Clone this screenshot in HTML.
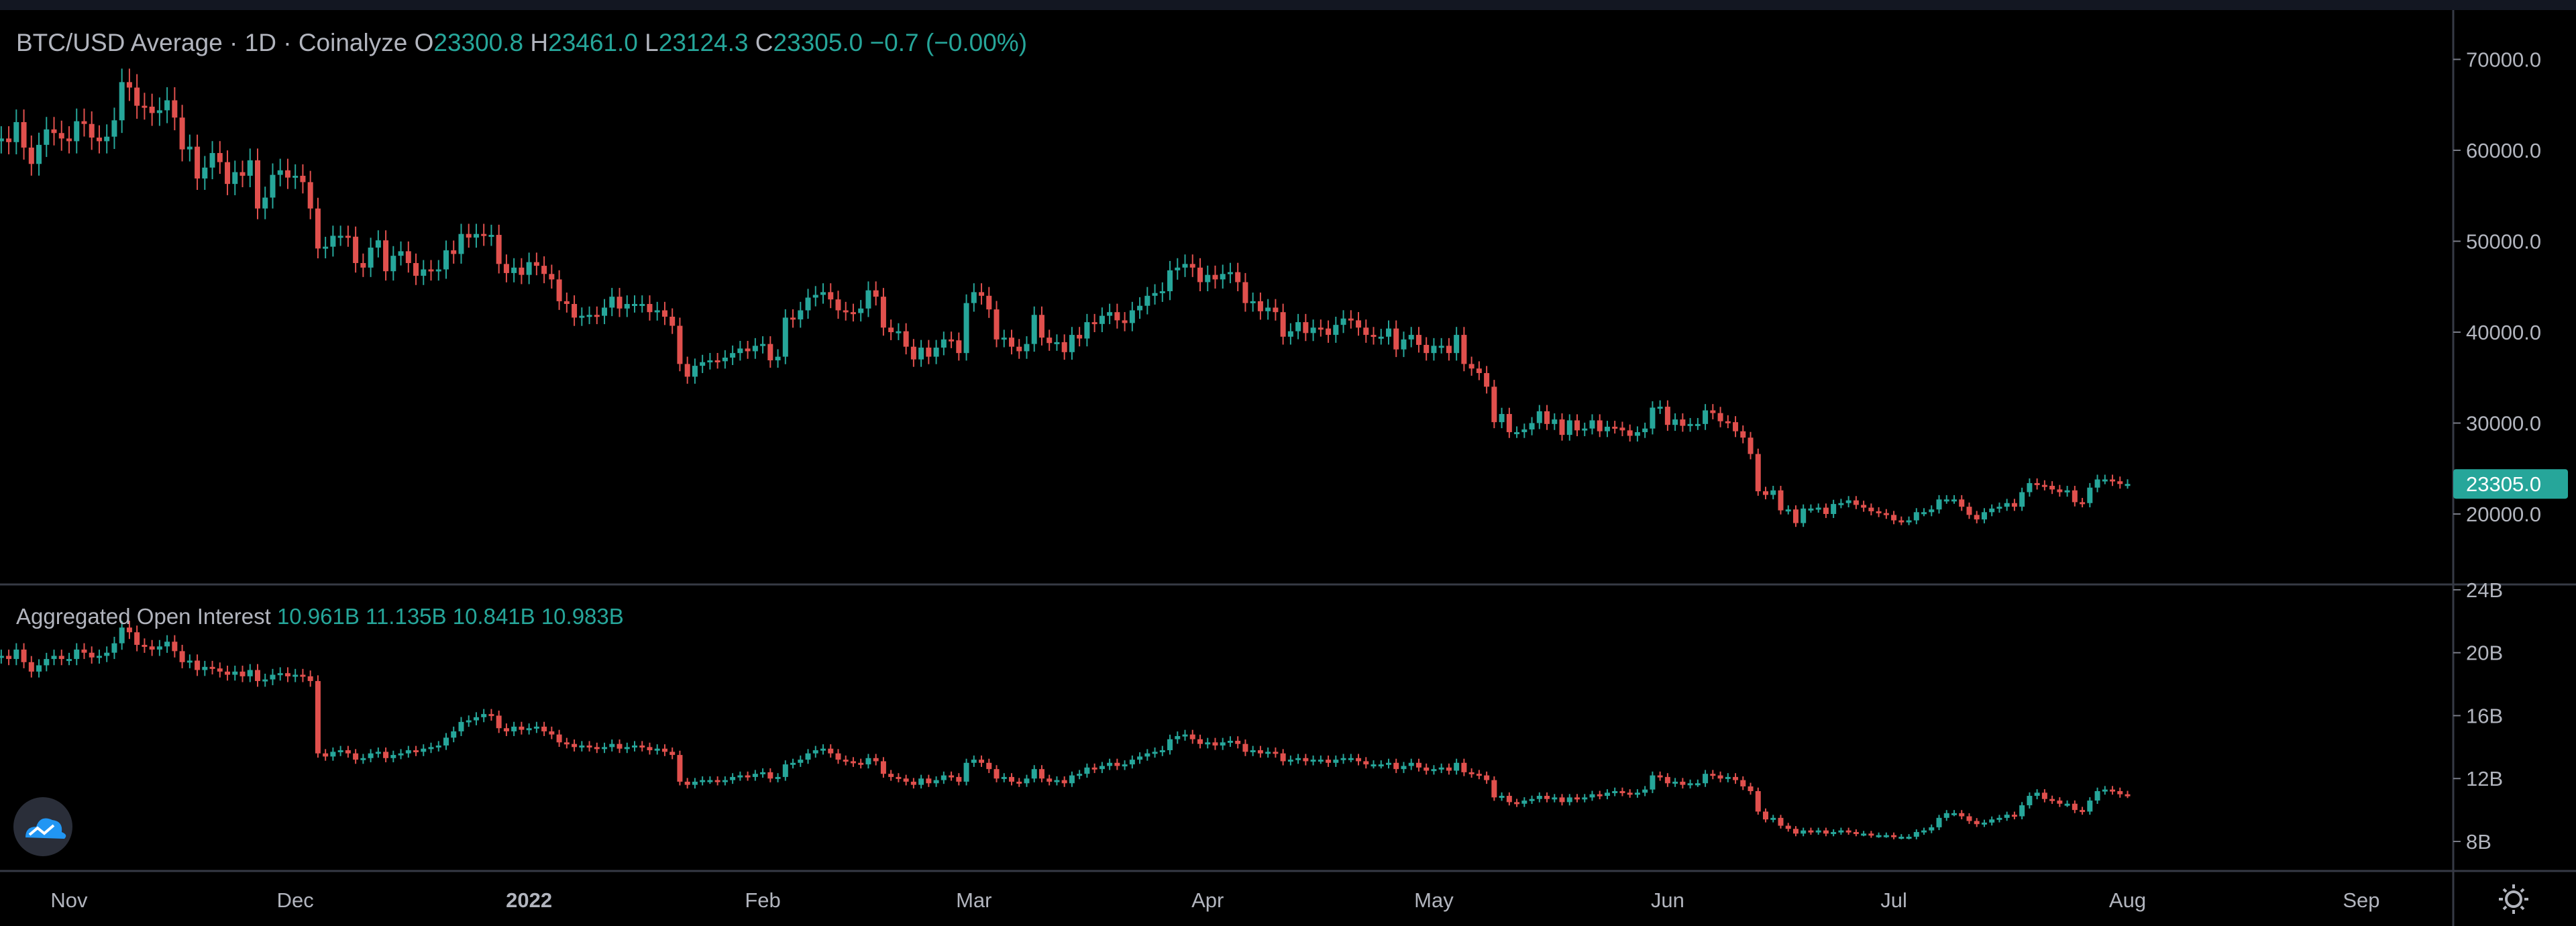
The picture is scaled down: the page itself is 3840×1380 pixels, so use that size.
<!DOCTYPE html>
<html><head><meta charset="utf-8"><style>
html,body{margin:0;padding:0;background:#000;}
body{width:3840px;height:1380px;overflow:hidden;position:relative;font-family:"Liberation Sans",sans-serif;}
svg{position:absolute;left:0;top:0;}
</style></head><body>
<svg id="chart" width="3840" height="1380" xmlns="http://www.w3.org/2000/svg">
<rect x="0" y="0" width="3840" height="15" fill="#131722"/>
<g id="marks"></g>
<line x1="0" y1="871" x2="3840" y2="871" stroke="#363a45" stroke-width="3"/>
<line x1="0" y1="1298" x2="3840" y2="1298" stroke="#363a45" stroke-width="3"/>
<line x1="3657" y1="15" x2="3657" y2="1380" stroke="#363a45" stroke-width="3"/>
<g id="axes"></g>
<text x="24" y="76" font-size="37" fill="#b2b5be">BTC/USD Average · 1D · Coinalyze  <tspan fill="#b2b5be">O</tspan><tspan fill="#26a69a">23300.8</tspan>  <tspan fill="#b2b5be">H</tspan><tspan fill="#26a69a">23461.0</tspan>  <tspan fill="#b2b5be">L</tspan><tspan fill="#26a69a">23124.3</tspan>  <tspan fill="#b2b5be">C</tspan><tspan fill="#26a69a">23305.0  −0.7 (−0.00%)</tspan></text>
<text x="24" y="930" font-size="33" fill="#b2b5be">Aggregated Open Interest <tspan fill="#26a69a">  10.961B  11.135B  10.841B  10.983B</tspan></text>
<g><circle cx="64" cy="1232" r="44" fill="#2a2e39"/><path d="M38 1248 q0 -16 16 -16 q6 -18 24 -10 q16 2 14 18 q10 4 4 10 z" fill="#2196f3"/><path d="M44 1244 l12 -10 l10 8 l14 -12" stroke="#fff" stroke-width="4" fill="none"/></g>
<g><circle cx="3747" cy="1340" r="11" fill="none" stroke="#b2b5be" stroke-width="4"/><g stroke="#b2b5be" stroke-width="4"><line x1="3747" y1="1318" x2="3747" y2="1324"/><line x1="3747" y1="1356" x2="3747" y2="1362"/><line x1="3725" y1="1340" x2="3731" y2="1340"/><line x1="3763" y1="1340" x2="3769" y2="1340"/><line x1="3732" y1="1325" x2="3736" y2="1329"/><line x1="3758" y1="1351" x2="3762" y2="1355"/><line x1="3732" y1="1355" x2="3736" y2="1351"/><line x1="3758" y1="1329" x2="3762" y2="1325"/></g></g>
</svg>
<script>
const btcClose=[61300,60900,63100,60300,58500,60600,62300,61900,61300,
61000,63200,62900,61400,61000,61500,63300,67500,66900,64900,64800,64100,64400,65500,63600,60100,60400,56900,58100,59700,58700,56300,57600,57200,58900,53600,54800,57300,57800,57000,
57200,56500,53600,49200,49400,50600,50600,50500,47600,47100,49300,50100,46700,48400,48900,47600,46200,46900,46700,46900,49000,48600,50800,50400,50800,50600,50700,47500,46500,47100,46300,
47700,47300,46400,45800,43400,43100,41600,41800,41900,41800,42700,43900,42600,43100,43100,43100,42200,42400,41700,40700,36500,35100,36300,36700,36900,36800,37200,37700,38200,37900,38500,
38700,36900,37300,41600,41400,42400,43800,44100,44400,43600,42400,42200,42100,42600,44600,43900,40500,40000,40100,38400,37000,38300,37300,38300,39200,39100,37700,43200,
44400,44000,42500,39200,39400,38400,37900,38700,41900,39400,38800,38900,37800,39700,39300,41100,40900,41800,42200,41300,41000,42400,42900,44000,44300,44500,46800,47100,47500,47100,45500,
46300,45800,46400,46600,45500,43200,43400,42300,42700,42200,39500,40100,41100,39900,40500,40400,39700,40800,41500,41300,40500,39700,39500,39500,40400,38100,39200,39700,38600,37700,
38500,38500,37700,39700,36500,36000,35500,34000,30100,31000,29000,29000,29300,30000,31300,29900,30400,28700,30300,29200,29400,30300,29100,29600,29500,29200,28600,29000,29400,31700,31800,
29800,30400,29700,29900,29900,31400,31100,30200,30100,29100,28400,26600,22500,22100,22600,20400,20500,19000,20600,20600,20700,20000,21100,21200,21500,21000,20700,20300,20100,19900,
19300,19200,19300,20200,20200,20500,21600,21600,21600,20800,19900,19400,20200,20600,20800,21200,20800,22400,23400,23200,23100,22700,22400,22600,21300,21200,22900,23800,23800,23600,23300,
23305];
const oiClose=[19.8,19.6,20.2,19.4,18.8,19.2,19.6,19.8,19.6,
19.6,20.2,20.0,19.7,19.8,20.0,20.6,21.6,21.3,20.5,20.4,20.2,20.4,20.7,20.1,19.4,19.5,18.9,19.1,19.0,18.8,18.6,18.8,18.5,18.9,18.2,18.3,18.6,18.7,18.5,
18.6,18.5,18.2,13.6,13.4,13.7,13.8,13.6,13.2,13.3,13.6,13.7,13.3,13.5,13.6,13.8,13.7,13.9,14.0,14.1,14.6,15.0,15.6,15.7,15.9,16.1,16.0,15.2,15.0,15.3,15.1,
15.2,15.3,15.0,14.8,14.3,14.2,14.0,14.1,14.0,13.9,14.0,14.2,13.9,14.0,14.1,14.0,13.8,13.9,13.7,13.5,11.8,11.6,11.8,11.9,11.9,11.8,11.9,12.1,12.2,12.1,12.3,
12.4,12.0,12.1,12.9,13.0,13.2,13.6,13.8,13.9,13.6,13.2,13.1,13.0,12.9,13.3,13.1,12.3,12.1,12.0,11.8,11.6,12.0,11.7,11.9,12.2,12.1,11.8,13.0,
13.2,13.0,12.6,12.0,12.1,11.8,11.7,12.0,12.6,12.0,11.8,11.9,11.7,12.2,12.3,12.7,12.6,12.8,13.0,12.8,12.9,13.2,13.4,13.6,13.7,13.8,14.5,14.7,14.8,14.5,14.2,
14.3,14.1,14.3,14.4,14.2,13.7,13.8,13.6,13.7,13.6,13.1,13.2,13.3,13.1,13.2,13.2,13.0,13.2,13.3,13.3,13.1,12.9,12.9,12.9,13.0,12.6,12.8,13.0,12.7,12.5,
12.6,12.7,12.5,13.0,12.4,12.3,12.2,11.9,10.8,10.9,10.5,10.4,10.6,10.7,10.9,10.7,10.8,10.5,10.8,10.7,10.8,11.0,10.9,11.1,11.2,11.1,11.0,11.1,11.3,12.2,12.1,
11.7,11.8,11.6,11.7,11.7,12.3,12.2,12.0,12.1,11.9,11.5,11.2,9.9,9.4,9.5,9.0,8.8,8.5,8.7,8.6,8.7,8.5,8.6,8.7,8.6,8.5,8.5,8.4,8.4,8.4,
8.3,8.3,8.3,8.6,8.7,8.9,9.5,9.8,9.8,9.6,9.3,9.1,9.2,9.4,9.5,9.7,9.6,10.3,10.9,11.1,10.7,10.6,10.4,10.4,10.0,9.9,10.6,11.2,11.3,11.2,11.0,
10.98];
const priceTicks=[70000,60000,50000,40000,30000,20000];
const oiTicks=[24,20,16,12,8];
const monthLabels=["Nov","Dec","2022","Feb","Mar","Apr","May","Jun","Jul","Aug","Sep"];
const monthDayIndex=[9,39,70,101,129,160,190,221,251,282,313];
const lastPrice=23305.0;

const NS="http://www.w3.org/2000/svg";
const xOf=i=>103+(i-9)*11.24;
const yP=v=>766-(v-20000)*0.01355;
const yO=v=>1254-(v-8)*23.44;
function mk(tag,attrs,parent){const e=document.createElementNS(NS,tag);for(const k in attrs)e.setAttribute(k,attrs[k]);parent.appendChild(e);return e;}
const marks=document.getElementById('marks');
const axes=document.getElementById('axes');
function drawCandles(closes,yf,wickPct,name){
  for(let i=0;i<closes.length;i++){
    const c=closes[i];const o=i>0?closes[i-1]:c*0.995;
    const hi=Math.max(o,c)*(1+wickPct),lo=Math.min(o,c)*(1-wickPct);
    const col=c>=o?'#26a69a':'#e0504d';
    const x=xOf(i);
    const g=mk('g',{},marks);
    
    
    mk('line',{x1:x,x2:x,y1:yf(hi),y2:yf(lo),stroke:col,'stroke-width':2},g);
    const t=Math.min(yf(o),yf(c)),h=Math.max(3,Math.abs(yf(o)-yf(c)));
    mk('rect',{x:x-4,y:t,width:8,height:h,fill:col},g);
  }
}
drawCandles(btcClose,yP,0.022,'price');
drawCandles(oiClose,yO,0.02,'oi');
priceTicks.forEach(v=>{
  const y=yP(v);
  const l=mk('line',{x1:3657,x2:3668,y1:y,y2:y,stroke:'#787b86','stroke-width':2},axes);
  
  
  const t=mk('text',{x:3676,y:y+11,'font-size':31,fill:'#b2b5be'},axes);
  
  
  t.textContent=v.toFixed(1);
});
oiTicks.forEach(v=>{
  const y=yO(v);
  const l=mk('line',{x1:3657,x2:3668,y1:y,y2:y,stroke:'#787b86','stroke-width':2},axes);
  
  
  const t=mk('text',{x:3676,y:y+11,'font-size':31,fill:'#b2b5be'},axes);
  
  
  t.textContent=v+'B';
});
monthLabels.forEach((m,k)=>{
  const t=mk('text',{x:xOf(monthDayIndex[k]),y:1352,'font-size':31,fill:'#b2b5be','text-anchor':'middle','font-weight':m==='2022'?'bold':'normal'},axes);
  
  
  t.textContent=m;
});
const py=yP(lastPrice);
const pl=mk('g',{},axes);


mk('rect',{x:3657,y:py-22,width:171,height:44,rx:4,fill:'#26a69a'},pl);
const pt=mk('text',{x:3676,y:py+11,'font-size':31,fill:'#ffffff'},pl);
pt.textContent=lastPrice.toFixed(1);
</script>
</body></html>
